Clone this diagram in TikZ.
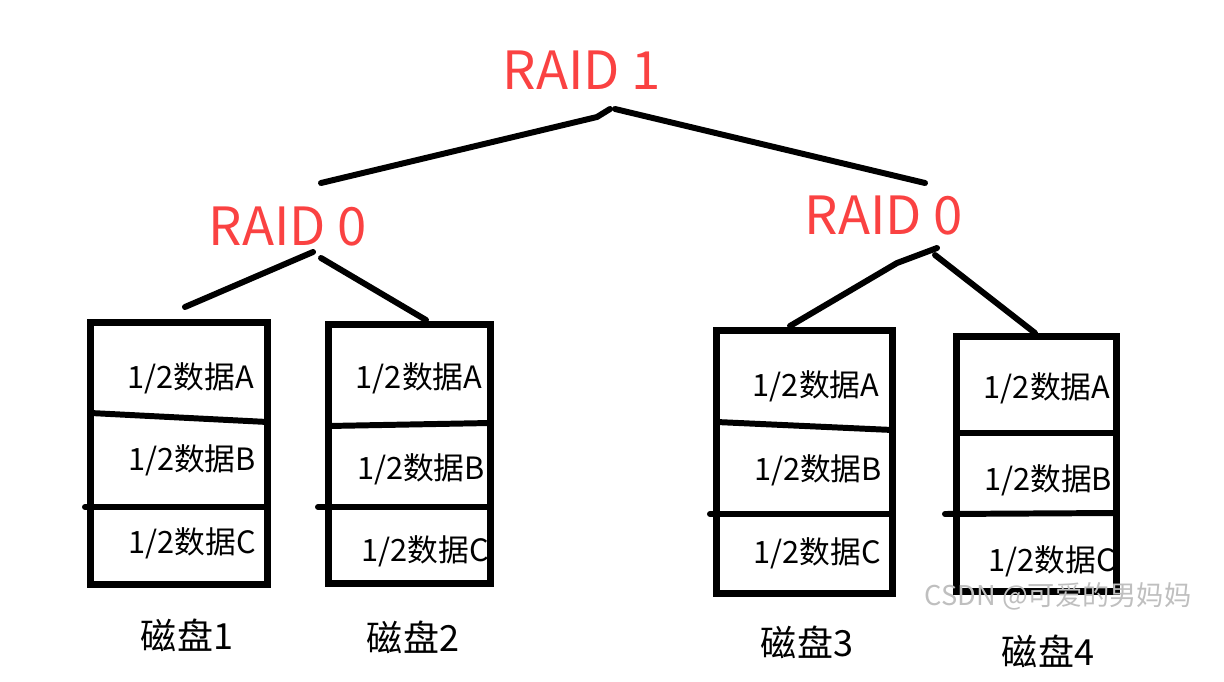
\documentclass[tikz,border=0pt]{standalone}
\usepackage{fontspec}
\setmainfont{Noto Sans CJK SC}
\definecolor{raidred}{RGB}{250,66,66}
\begin{document}
\begin{tikzpicture}[
  x = 0.02cm,
  y = -0.02cm,
  raid/.style = {
    text = raidred,
    font = \fontsize{30}{32}\selectfont,
    inner sep = 0pt,
  },
  disk/.style = {
    draw,
    line width = 4pt,
    outer sep = 0pt,
    inner sep = 0pt,
  },
  half/.style = {
    font = \fontsize{17.5}{19}\selectfont,
    inner sep = 0pt,
  },
  diskname/.style = {
    font = \fontsize{20.5}{22}\selectfont,
    inner sep = 0pt,
  },
  stamp/.style = {
    text = black!25,
    font = \fontsize{15.5}{17}\selectfont,
    inner sep = 0pt,
  },
  every path/.style = {
    line width = 3.4pt,
    line cap = round
  }
]
  \useasboundingbox (0, 0) rectangle (1224, 682);

  \node[raid] (raid1) at (582, 70) {RAID 1};
  \node[raid] (raid0a) at (288, 227) {RAID 0};
  \node[raid] (raid0b) at (884, 216) {RAID 0};

  \node[disk, minimum width = 3.54cm, minimum height = 5.24cm] (d1) at (179, 453.5) {};
  \node[disk, minimum width = 3.24cm, minimum height = 5.18cm] (d2) at (409.5, 454) {};
  \node[disk, minimum width = 3.52cm, minimum height = 5.26cm] (d3) at (804.5, 462) {};
  \node[disk, minimum width = 3.2cm, minimum height = 5.1cm] (d4) at (1036.5, 464) {};

  % top of the tree
  \coordinate (r1) at (610, 109);
  \coordinate (r1k) at (597, 117);
  \coordinate (r1r) at (615, 109);
  \coordinate (r1a) at (321, 183);
  \coordinate (r1b) at (925, 183);
  \draw (r1) -- (r1k) -- (r1a);
  \draw (r1r) -- (r1b);

  % left raid 0
  \coordinate (ra1) at (313, 252);
  \coordinate (ra2) at (321, 258);
  \coordinate (d1t) at (185, 307);
  \coordinate (d2t) at (426, 320);
  \draw (ra1) -- (d1t);
  \draw (ra2) -- (d2t);

  % right raid 0
  \coordinate (rb1) at (937, 248);
  \coordinate (rbk) at (897, 263);
  \coordinate (rb2) at (935, 255);
  \coordinate (d3t) at (790, 326);
  \coordinate (d4t) at (1035, 333);
  \draw (rb1) -- (rbk) -- (d3t);
  \draw (rb2) -- (d4t);

  % dividers
  \draw (d1.west |- 0, 413) -- (d1.east |- 0, 422);
  \draw (85, 507) -- (d1.east |- 0, 507);
  \draw (d2.west |- 0, 426) -- (d2.east |- 0, 423);
  \draw (318, 507) -- (d2.east |- 0, 507);
  \draw (d3.west |- 0, 422) -- (d3.east |- 0, 430);
  \draw (710, 514) -- (d3.east |- 0, 514);
  \draw (d4.west |- 0, 433) -- (d4.east |- 0, 433);
  \draw (945, 514) -- (d4.east |- 0, 513);

  \node[half] (d1a) at (191, 378) {1/2数据A};
  \node[half] (d1b) at (192, 460) {1/2数据B};
  \node[half] (d1c) at (192, 543) {1/2数据C};
  \node[half] (d2a) at (419, 378) {1/2数据A};
  \node[half] (d2b) at (421, 469) {1/2数据B};
  \node[half] (d2c) at (425, 551) {1/2数据C};
  \node[half] (d3a) at (816, 386) {1/2数据A};
  \node[half] (d3b) at (818, 470) {1/2数据B};
  \node[half] (d3c) at (817, 553) {1/2数据C};
  \node[half] (d4a) at (1047, 388) {1/2数据A};
  \node[half] (d4b) at (1048, 480) {1/2数据B};
  \node[half] (d4c) at (1052, 561) {1/2数据C};

  \node[diskname] (n1) at (187, 635) {磁盘1};
  \node[diskname] (n2) at (413, 637) {磁盘2};
  \node[diskname] (n3) at (807, 642) {磁盘3};
  \node[diskname] (n4) at (1048, 651) {磁盘4};

  \node[stamp] (wm) at (1058, 596) {CSDN @可爱的男妈妈};
\end{tikzpicture}
\end{document}
